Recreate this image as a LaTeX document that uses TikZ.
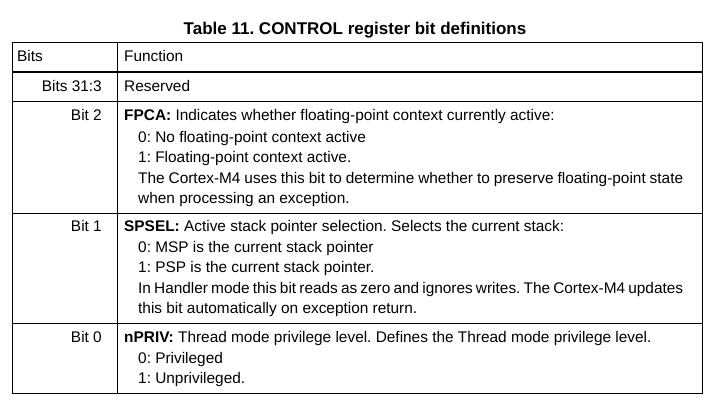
\documentclass[tikz,border=0pt]{standalone}
\usepackage{fontspec}
\setmainfont{Liberation Sans}
\frenchspacing
\begin{document}
\begin{tikzpicture}[x=1pt,y=-1pt,font=\fontsize{15.4}{20}\selectfont]

            \tikzset{
              bitcell/.style={anchor=base east,inner sep=0pt},
              funcell/.style={anchor=base west,inner sep=0pt},
            }

            \useasboundingbox (0,0) rectangle (718,416);

            \node (title) [anchor=base,inner sep=0pt,font=\fontsize{17}{20}\selectfont\bfseries] at (355,34) {Table 11. CONTROL register bit definitions};

            % table frame
            \draw[line width=1pt] (12,42) rectangle (702,393);
            \draw[line width=1pt] (117,42) -- (117,393);
            \draw[line width=2.4pt] (12,72) -- (702,72);
            \draw[line width=0.9pt] (12,101) -- (702,101);
            \draw[line width=0.9pt] (12,213) -- (702,213);
            \draw[line width=0.9pt] (12,323) -- (702,323);

            % header
            \node (hbits) [funcell] at (17,61.5) {Bits};
            \node (hfunc) [funcell] at (124,61.5) {Function};

            % reserved
            \node (b313) [bitcell] at (102,91.5) {Bits 31:3};
            \node (res) [funcell] at (124,91.5) {Reserved};

            % bit 2
            \node (b2) [bitcell] at (102,120.5) {Bit 2};
            \node (fpca) [funcell] at (124,120.5) {\textbf{FPCA:} Indicates whether floating-point context currently active:};
            \node (fpcaa) [funcell] at (138,142.5) {0: No floating-point context active};
            \node (fpcab) [funcell] at (138,162.5) {1: Floating-point context active.};
            \node (fpcac) [funcell] at (138,183) {\makebox[545pt][s]{The Cortex-M4 uses this bit to determine whether to preserve floating-point state}};
            \node (fpcad) [funcell] at (138,203) {when processing an exception.};

            % bit 1
            \node (b1) [bitcell] at (102,231) {Bit 1};
            \node (spsel) [funcell] at (124,231) {\textbf{SPSEL:} Active stack pointer selection. Selects the current stack:};
            \node (spsela) [funcell] at (138,252) {0: MSP is the current stack pointer};
            \node (spselb) [funcell] at (138,272) {1: PSP is the current stack pointer.};
            \node (spselc) [funcell] at (138,293) {\makebox[545pt][s]{In Handler mode this bit reads as zero and ignores writes. The Cortex-M4 updates}};
            \node (spseld) [funcell] at (138,313) {this bit automatically on exception return.};

            % bit 0
            \node (b0) [bitcell] at (102,342) {Bit 0};
            \node (npriv) [funcell] at (124,342) {\textbf{nPRIV:} Thread mode privilege level. Defines the Thread mode privilege level.};
            \node (npriva) [funcell] at (138,363) {0: Privileged};
            \node (nprivb) [funcell] at (138,383) {1: Unprivileged.};

        \end{tikzpicture}
\end{document}
